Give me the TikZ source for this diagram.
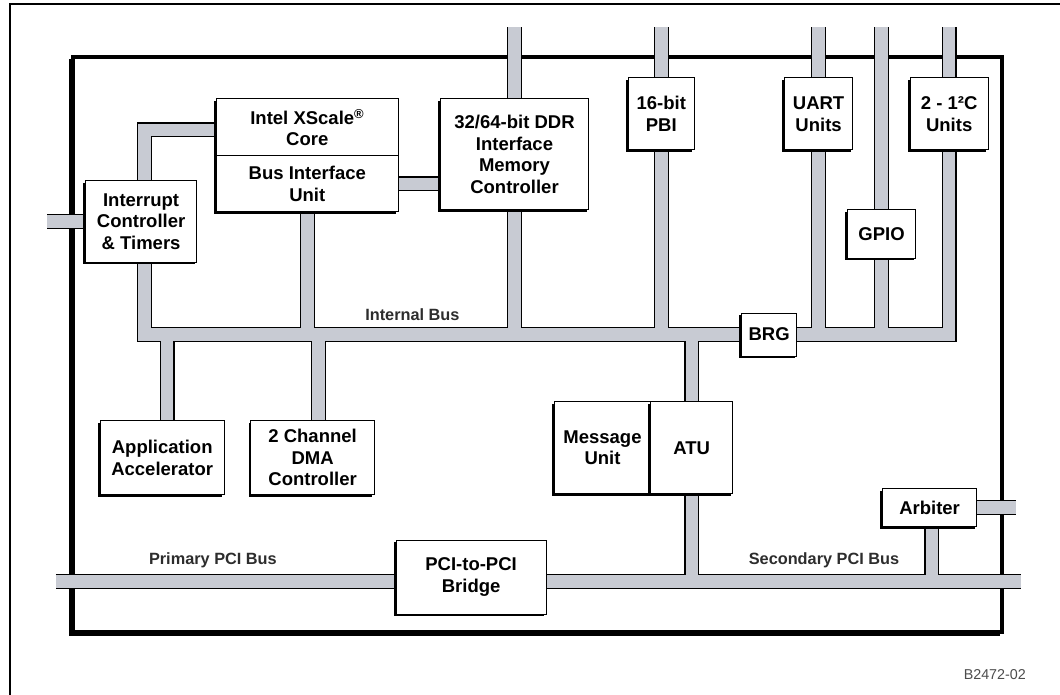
\documentclass[tikz,border=0pt]{standalone}
\usepackage{fontspec}
\setmainfont{Liberation Sans}
\usetikzlibrary{positioning,shadows,backgrounds,calc}

\definecolor{busgrey}{RGB}{200,203,211}
\definecolor{labelgrey}{RGB}{45,45,45}

\newcommand{\blockfont}{\fontsize{18.5}{21.5}\selectfont\bfseries}
\newcommand{\buslabelfont}{\fontsize{16.3}{18}\selectfont\bfseries}

% the bus net, drawn twice: black edge first, grey core on top
\newcommand{\busnet}[1]{%
  \draw[#1] (intc.center -| lstub) -- (intc.center);
  \draw[#1] ($(intc.center)+(3.4,0)$) |- ($(core.center)+(0,2.5)$);
  \draw[#1] ($(intc.center)+(3.4,0)$) |- (brg.center) -| (i2c.center);
  \draw[#1] (biu.center) -- (biu.center |- brg.center);
  \draw[#1] (biu.center) -- (biu.center -| ddr.center);
  \draw[#1] (ddr.center |- topend) -- (ddr.center |- brg.center);
  \draw[#1] (pbi.center |- topend) -- (pbi.center |- brg.center);
  \draw[#1] (uart.center |- topend) -- (uart.center |- brg.center);
  \draw[#1] (gpio.center |- topend) -- (gpio.center |- brg.center);
  \draw[#1] (i2c.center |- topend) -- (i2c.center);
  \draw[#1] ($(accel.center)+(4.9,0)$) -- ($(accel.center |- brg.center)+(4.9,0)$);
  \draw[#1] ($(dma.center)+(6,0)$) -- ($(dma.center |- brg.center)+(6,0)$);
  \draw[#1] (atu.center |- brg.center) -- (atu.center |- pciend);
  \draw[#1] (pcistart) -- (pciend);
  \draw[#1] ($(arbiter.center)+(2.3,0)$) -- ($(arbiter.center |- pciend)+(2.3,0)$);
  \draw[#1] (arbiter.center) -- (arbiter.center -| rstub);
}

\begin{document}
\begin{tikzpicture}[x=1pt, y=-1pt,
    block/.style 2 args={draw, fill=white, line width=1pt, align=center, inner sep=0pt,
      minimum width=#1pt, minimum height=#2pt, font=\blockfont,
      drop shadow={shadow xshift=-2.2pt, shadow yshift=-2.2pt, opacity=1, fill=black}},
    busedge/.style={draw=black, line width=15pt},
    busfill/.style={draw=busgrey, line width=12.4pt},
    buslabel/.style={font=\buslabelfont, text=labelgrey, inner sep=0pt}]
    \useasboundingbox (0,0) rectangle (1060,695);

    % free ends of the buses
    \coordinate (lstub) at (47,0);
    \coordinate (rstub) at (1015.7,0);
    \coordinate (topend) at (0,27.3);
    \coordinate (pcistart) at (55.8,581.5);
    \coordinate (pciend) at (1020.8,581.5);

    % Core and memory side
    \node [block={182}{57}] (core) at (307.3,127.5) {Intel XScale\textsuperscript{®}\\Core};
    \node [block={182}{56}] (biu) at (307.3,184) {Bus Interface\\Unit};
    \node [block={111.2}{81}] (intc) at (141.1,221.5) {Interrupt\\Controller\\\& Timers};
    \node [block={148.7}{111}] (ddr) at (514.5,154.5) {32/64-bit DDR\\Interface\\Memory\\Controller};

    % Peripheral side
    \node [block={66}{72}] (pbi) at (661.3,114) {16-bit\\PBI};
    \node [block={68.6}{72}] (uart) at (818.6,114) {UART\\Units};
    \node [block={78.4}{72}] (i2c) at (949.2,114) {2 - 1²C\\Units};
    \node [block={68.6}{48}] (gpio) at (881.5,234) {GPIO};
    \node [block={55.7}{43}] (brg) at (769.1,334.5) {BRG};

    % Lower units
    \node [block={123.7}{74.3}] (accel) at (162.2,457.8) {Application\\Accelerator};
    \node [block={123.7}{74.3}] (dma) at (312.6,457.8) {2 Channel\\DMA\\Controller};
    \node [block={96.4}{92.3}] (msgu) at (602.5,447.8) {Message\\Unit};
    \node [block={82.1}{92.3}] (atu) at (691.7,447.8) {ATU};
    \node [block={150.1}{74}] (bridge) at (471.1,577) {PCI-to-PCI\\Bridge};
    \node [block={94.3}{38.4}] (arbiter) at (929.6,507.5) {Arbiter};

    % Bus names
    \node [buslabel] (ibuslbl) at (412.4,314.5) {Internal Bus};
    \node [buslabel] (pbuslbl) at (212.9,560) {Primary PCI Bus};
    \node [buslabel] (sbuslbl) at (824,560) {Secondary PCI Bus};
    \node [font=\fontsize{14.3}{16}\selectfont, text=black!70, inner sep=0pt] (figid) at (994.8,675) {B2472-02};

    \begin{pgfonlayer}{background}
        \fill [white] (0,0) rectangle (1060,695);
        \draw [line width=2pt] (10.3,4.3) rectangle (1075,710);
        % chip outline with its shadow
        \draw [line width=4pt] (70.5,59.2) |- (999.5,634);
        \draw [line width=4pt] (72.5,57.2) rectangle (1001.5,632);
        \busnet{busedge}
        \busnet{busfill}
    \end{pgfonlayer}
\end{tikzpicture}
\end{document}
